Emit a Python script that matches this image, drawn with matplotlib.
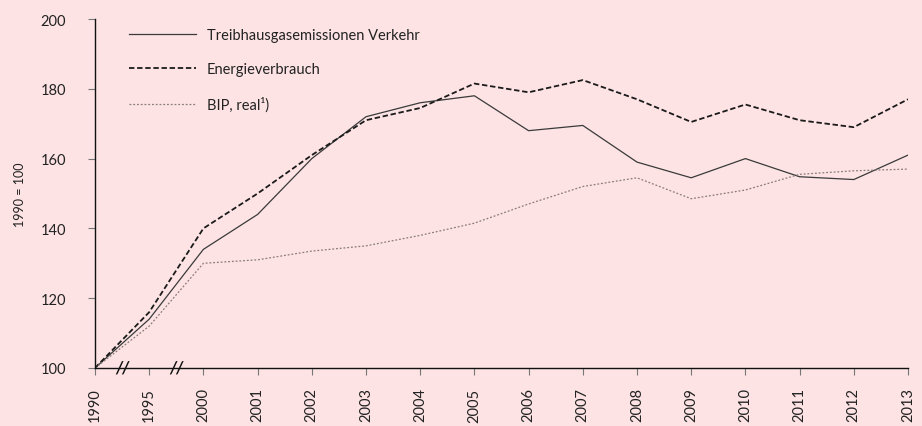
import numpy as np
import matplotlib.pyplot as plt

years = ["1990", "1995", "2000", "2001", "2002", "2003", "2004", "2005", "2006",
         "2007", "2008", "2009", "2010", "2011", "2012", "2013"]
treibhaus = [100, 114, 134, 144, 160, 172, 176, 178, 168, 169.5, 159, 154.5, 160, 154.8, 154, 161]
energie = [100, 116, 140, 150, 161, 171, 174.5, 181.5, 179, 182.5, 177, 170.5, 175.5, 171, 169, 177]
bip = [100, 112, 130, 131, 133.5, 135, 138, 141.5, 147, 152, 154.5, 148.5, 151, 155.5, 156.5, 157]

bg = "#fde3e4"
plt.rcParams['font.family'] = ['Lato', 'DejaVu Sans']

fig = plt.figure(figsize=(9.22, 4.27), dpi=100, facecolor=bg)
ax = fig.add_axes([95 / 922, 1 - 369 / 427, (908 - 95) / 922, (369 - 20) / 427])
ax.set_facecolor(bg)

x = np.arange(len(years))
ax.plot(x, treibhaus, color="#3a3a3a", lw=0.9, label="Treibhausgasemissionen Verkehr")
ax.plot(x, energie, color="#1a1a1a", lw=1.3, ls=(0, (3, 1.5)), label="Energieverbrauch")
ax.plot(x, bip, color="#8a7a7a", lw=0.9, ls=(0, (1.5, 1.5)), label="BIP, real¹)")

ax.set_xlim(0, len(years) - 1)
ax.set_ylim(100, 200)
ax.set_xticks(x)
ax.set_xticklabels(years, rotation=90, fontsize=10.5, color="#222222")
ax.set_yticks([100, 120, 140, 160, 180, 200])
ax.tick_params(axis="y", labelsize=10.5, colors="#222222", length=5, color="#777777", pad=16)
ax.tick_params(axis="x", length=5, color="#777777", pad=9)
for s in ["top", "right"]:
    ax.spines[s].set_visible(False)
ax.spines["left"].set_color("#111111")
ax.spines["bottom"].set_color("#111111")
ax.spines["left"].set_linewidth(1.0)
ax.spines["bottom"].set_linewidth(1.0)

ax.set_ylabel("1990 = 100", fontsize=9, color="#222222", labelpad=10)

# axis break marks between the non-yearly ticks
for xb in [0.5, 1.5]:
    ax.text(xb, 100, "//", fontsize=12, style="italic", fontweight="bold", ha="center",
            va="center", color="#111111", clip_on=False)

leg = ax.legend(loc="upper left", bbox_to_anchor=(0.026, 1.012), frameon=False,
                fontsize=10.5, handlelength=4.6, labelspacing=1.4, handletextpad=0.7)
for t in leg.get_texts():
    t.set_color("#222222")

fig.savefig("out.png", dpi=100, facecolor=bg)
